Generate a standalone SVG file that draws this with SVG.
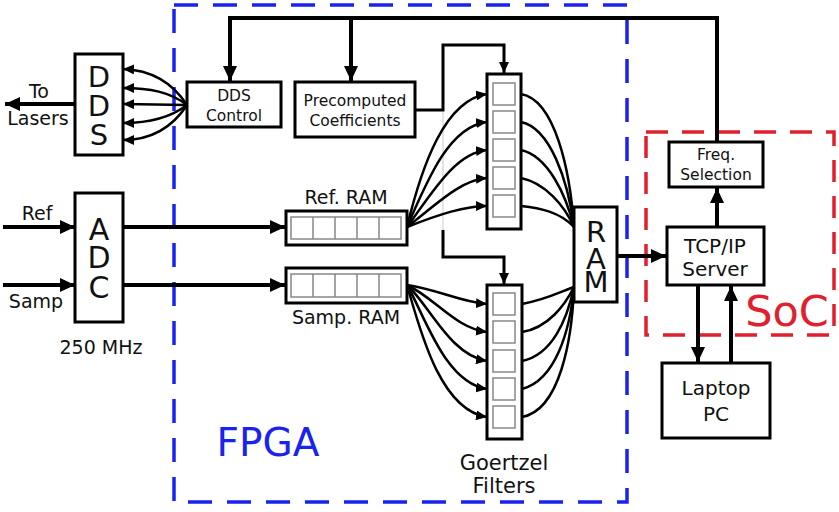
<svg xmlns="http://www.w3.org/2000/svg" width="839" height="512" viewBox="0 0 839 512">
<style>
text{font-family:"DejaVu Sans","Liberation Sans",sans-serif;fill:#111;text-anchor:middle}
.box{fill:#fff;stroke:#000;stroke-width:3}
.cell{fill:#fff;stroke:#888;stroke-width:1.5}
.thick{fill:none;stroke:#000;stroke-width:4}
.curve{fill:none;stroke:#000;stroke-width:2.5}
.big{font-size:29px}
</style>
<defs>
<marker id="ah" markerUnits="userSpaceOnUse" markerWidth="16" markerHeight="14" refX="15" refY="7" orient="auto"><path d="M0,0 L15,7 L0,14 z" fill="#000"/></marker>
<marker id="as" markerUnits="userSpaceOnUse" markerWidth="12" markerHeight="10" refX="11" refY="5" orient="auto"><path d="M0,0 L11,5 L0,10 z" fill="#000"/></marker>
</defs>
<rect width="839" height="512" fill="#fff"/>
<g id="fpga-region">
<rect x="174" y="5" width="453" height="497" fill="none" stroke="#1a22ee" stroke-width="3.5" stroke-dasharray="24,15"/>
<text x="268" y="456" style="font-size:39px;fill:#1a22ee">FPGA</text>
</g>
<g id="soc-region">
<rect x="646" y="132" width="188" height="203" fill="none" stroke="#e0202e" stroke-width="3.5" stroke-dasharray="22,14"/>
<text x="787" y="326" style="font-size:43px;fill:#e0202e">SoC</text>
</g>
<g id="connectors">
<path class="thick" d="M717,142 L717,18 L230,18 L230,81" marker-end="url(#ah)"/>
<path class="thick" d="M351,18 L351,81" marker-end="url(#ah)"/>
<path class="thick" d="M75,104 L5,104" marker-end="url(#ah)"/>
<path class="thick" d="M3,227 L75,227" marker-end="url(#ah)"/>
<path class="thick" d="M3,285 L75,285" marker-end="url(#ah)"/>
<path class="thick" d="M123,227 L285,227" marker-end="url(#ah)"/>
<path class="thick" d="M123,285 L285,285" marker-end="url(#ah)"/>
<path class="thick" d="M618,256 L666,256" marker-end="url(#ah)"/>
<path class="thick" d="M717,227 L717,188" marker-end="url(#ah)"/>
<path class="thick" d="M698,285 L698,362" marker-end="url(#ah)"/>
<path class="thick" d="M731,363 L731,286" marker-end="url(#ah)"/>
<path fill="none" stroke="#000" stroke-width="3" d="M415,110 L443,110 L443,45 L504,45 L504,73" marker-end="url(#as)"/>
<path fill="none" stroke="#000" stroke-width="3" d="M443,230 L443,257 L504,257 L504,284" marker-end="url(#as)"/>
<path fill="none" stroke="#ddd" stroke-width="1.5" d="M443,112 L443,230"/>
<g marker-end="url(#as)">
<path class="curve" d="M187,105 C172,82 150,70 123,69"/>
<path class="curve" d="M187,105 C170,92 150,88 123,88"/>
<path class="curve" d="M187,105 L123,104"/>
<path class="curve" d="M187,105 C170,118 150,123 123,123"/>
<path class="curve" d="M187,105 C172,128 150,140 123,140"/>
<path class="curve" d="M407,227 C422,165 445,100 487,94"/>
<path class="curve" d="M407,227 C428,178 450,126 487,122"/>
<path class="curve" d="M407,227 C432,193 455,153 487,150"/>
<path class="curve" d="M407,227 C436,205 460,180 487,178"/>
<path class="curve" d="M407,227 C440,214 465,206 487,206"/>
<path class="curve" d="M407,285 C440,290 460,302 487,304"/>
<path class="curve" d="M407,285 C435,298 455,328 487,332"/>
<path class="curve" d="M407,285 C430,306 450,355 487,361"/>
<path class="curve" d="M407,285 C425,316 445,383 487,389"/>
<path class="curve" d="M407,285 C420,330 440,410 487,417"/>
</g>
<path class="curve" d="M521,94 C555,100 570,170 574,227"/>
<path class="curve" d="M521,122 C550,128 568,180 574,227"/>
<path class="curve" d="M521,150 C548,156 566,195 574,227"/>
<path class="curve" d="M521,178 C545,183 564,205 574,227"/>
<path class="curve" d="M521,206 C540,208 560,212 574,227"/>
<path class="curve" d="M522,304 C545,300 560,292 574,287"/>
<path class="curve" d="M522,332 C548,328 565,305 574,287"/>
<path class="curve" d="M522,361 C552,355 567,320 574,287"/>
<path class="curve" d="M522,389 C556,380 570,330 574,287"/>
<path class="curve" d="M522,417 C560,410 572,340 574,287"/>
</g>
<g id="labels">
<text x="39" y="98" style="font-size:19px">To</text>
<text x="38" y="125" style="font-size:19px">Lasers</text>
<text x="37" y="220" style="font-size:19px">Ref</text>
<text x="36" y="308" style="font-size:19px">Samp</text>
<text x="101" y="354" style="font-size:19px">250 MHz</text>
</g>
<g id="dds">
<rect class="box" x="75" y="54" width="48" height="101"/>
<text class="big" x="99" y="87">D<tspan x="99" y="116">D</tspan><tspan x="99" y="145">S</tspan></text>
</g>
<g id="dds-control">
<rect class="box" x="187" y="82" width="94" height="45"/>
<text x="234" y="101" style="font-size:15.5px">DDS</text>
<text x="234" y="121" style="font-size:15.5px">Control</text>
</g>
<g id="precomputed">
<rect class="box" x="295" y="82" width="120" height="55"/>
<text x="355" y="106" style="font-size:15.5px">Precomputed</text>
<text x="355" y="126" style="font-size:15.5px">Coefficients</text>
</g>
<g id="adc">
<rect class="box" x="75" y="193" width="48" height="129"/>
<text class="big" x="99" y="240" style="font-size:30px">A<tspan x="99" y="268">D</tspan><tspan x="99" y="298">C</tspan></text>
</g>
<g id="ref-ram">
<text x="346" y="204" style="font-size:19px">Ref. RAM</text>
<rect class="box" x="286" y="211" width="121" height="34"/>
<rect class="cell" x="291" y="217" width="110" height="22"/>
<path stroke="#888" stroke-width="1.5" d="M313,217 V239 M335,217 V239 M357,217 V239 M379,217 V239"/>
</g>
<g id="samp-ram">
<rect class="box" x="286" y="268" width="121" height="35"/>
<rect class="cell" x="291" y="274" width="110" height="23"/>
<path stroke="#888" stroke-width="1.5" d="M313,274 V297 M335,274 V297 M357,274 V297 M379,274 V297"/>
<text x="346" y="324" style="font-size:19px">Samp. RAM</text>
</g>
<g id="goertzel-upper">
<rect class="box" x="487" y="74" width="34" height="155"/>
<rect class="cell" x="493" y="83" width="22" height="22"/>
<rect class="cell" x="493" y="111" width="22" height="22"/>
<rect class="cell" x="493" y="139" width="22" height="22"/>
<rect class="cell" x="493" y="167" width="22" height="22"/>
<rect class="cell" x="493" y="195" width="22" height="22"/>
</g>
<g id="goertzel-lower">
<rect class="box" x="487" y="285" width="35" height="154"/>
<rect class="cell" x="493" y="293" width="22" height="22"/>
<rect class="cell" x="493" y="321" width="22" height="22"/>
<rect class="cell" x="493" y="350" width="22" height="22"/>
<rect class="cell" x="493" y="378" width="22" height="22"/>
<rect class="cell" x="493" y="406" width="22" height="22"/>
<text x="504" y="470" style="font-size:21px">Goertzel</text>
<text x="504" y="493" style="font-size:21px">Filters</text>
</g>
<g id="ram">
<rect class="box" x="574" y="207" width="43" height="95"/>
<text class="big" x="596" y="242">R<tspan x="596" y="269">A</tspan><tspan x="596" y="292">M</tspan></text>
</g>
<g id="freq-selection">
<rect class="box" x="669" y="142" width="94" height="45"/>
<text x="716" y="160" style="font-size:15.5px">Freq.</text>
<text x="716" y="180" style="font-size:15.5px">Selection</text>
</g>
<g id="tcp-ip-server">
<rect class="box" x="667" y="227" width="97" height="58"/>
<text x="715" y="253" style="font-size:20px">TCP/IP</text>
<text x="715" y="276" style="font-size:20px">Server</text>
</g>
<g id="laptop-pc">
<rect class="box" x="662" y="363" width="108" height="75"/>
<text x="716" y="395" style="font-size:20px">Laptop</text>
<text x="716" y="421" style="font-size:20px">PC</text>
</g>
</svg>
